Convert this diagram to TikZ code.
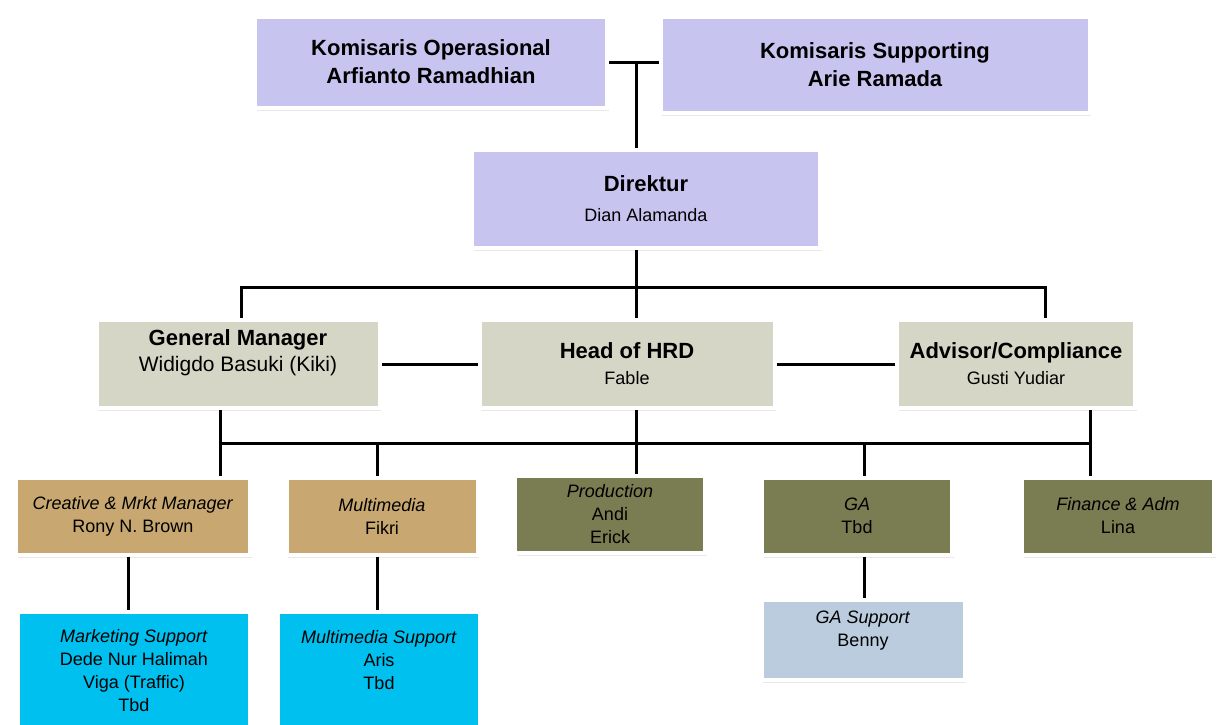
\documentclass[tikz,border=0pt]{standalone}
\usepackage{fontspec}
\setmainfont{Liberation Sans}
\usetikzlibrary{positioning, calc, shadows}
\definecolor{komfill}{RGB}{200,196,240}
\definecolor{mgrfill}{RGB}{214,214,198}
\definecolor{tanfill}{RGB}{200,168,112}
\definecolor{olivefill}{RGB}{122,124,82}
\definecolor{cyanfill}{RGB}{0,192,240}
\definecolor{supfill}{RGB}{186,204,222}
\tikzset{block/.style={draw=white, line width=4pt, align=center, inner sep=2pt,
    drop shadow={shadow xshift=1.5pt, shadow yshift=-3pt, opacity=.18}},
  top/.style={block, fill=komfill, font=\bfseries\fontsize{22}{28}\selectfont},
  mid/.style={block, fill=mgrfill, minimum height=88pt, font=\fontsize{18}{26}\selectfont},
  unit/.style={block, fill=#1, minimum height=77pt, font=\fontsize{18}{23}\selectfont},
  support/.style={block, fill=#1, font=\fontsize{18}{23}\selectfont},
  line/.style={line width=3pt}
}
\newcommand{\ttl}[1]{\textbf{\fontsize{22}{26}\selectfont #1}}

\begin{document}
\begin{tikzpicture}[x=1pt,y=-1pt]
\fill[white] (0,0) rectangle (1219,724);
\useasboundingbox (0,0) rectangle (1219,724);
% komisaris and direktur
\node[top,minimum width=352pt,minimum height=91pt] (kop) at (431,62) {Komisaris Operasional\\Arfianto Ramadhian};
\node[top,minimum width=429pt,minimum height=96pt] (ksup) at (875,65) {Komisaris Supporting\\Arie Ramada};
\node[top,minimum width=348pt,minimum height=98pt,font=\fontsize{18}{30}\selectfont] (dir) at (646,199) {\ttl{Direktur}\\Dian Alamanda};
% managers
\node[mid,minimum width=283pt] (gm) at (238,364) {\ttl{General Manager}\\{\fontsize{21}{26}\selectfont Widigdo Basuki (Kiki)}\\\mbox{}};
\node[mid,minimum width=295pt] (hrd) at (627,364) {\ttl{Head of HRD}\\Fable};
\node[mid,minimum width=238pt] (adv) at (1016,364) {\ttl{Advisor/Compliance}\\Gusti Yudiar};
% units
\node[unit=tanfill,minimum width=234pt] (cmm) at (133,516) {\textit{Creative \& Mrkt Manager}\\Rony N. Brown};
\node[unit=tanfill,minimum width=191pt] (mm) at (382,516) {\textit{Multimedia}\\Fikri};
\node[unit=olivefill,minimum width=190pt] (prod) at (610,514) {\textit{Production}\\Andi\\Erick};
\node[unit=olivefill,minimum width=190pt] (ga) at (857,516) {\textit{GA}\\Tbd};
\node[unit=olivefill,minimum width=192pt] (fin) at (1118,516) {\textit{Finance \& Adm}\\Lina};
% support
\node[support=cyanfill,minimum width=232pt,minimum height=118pt] (msup) at (134,671) {\textit{Marketing Support}\\Dede Nur Halimah\\Viga (Traffic)\\Tbd};
\node[support=cyanfill,minimum width=202pt,minimum height=118pt] (mmsup) at (379,671) {\textit{Multimedia Support}\\Aris\\Tbd\\\mbox{}};
\node[support=supfill,minimum width=203pt,minimum height=80pt] (gasup) at (863,640) {\textit{GA Support}\\Benny\\\mbox{}};
% connectors
\coordinate (kj) at (636,62);
\coordinate (bus1) at (636,287);
\coordinate (busL) at (241,287);
\coordinate (busR) at (1045,287);
\coordinate (bus2) at (636,443);
\coordinate (bus2L) at (220,443);
\coordinate (bus2R) at (1090,443);
\draw[line] (kop.east) -- (kop.east -| ksup.west);
\draw[line] (kj) -- (kj |- dir.north);
\draw[line] (bus1 |- dir.south) -- (bus1);
\draw[line] (busL |- gm.north) -- (busL) -- (busR) -- (busR |- adv.north);
\draw[line] (bus1) -- (bus1 |- hrd.north);
\draw[line] (gm) -- (hrd);
\draw[line] (hrd) -- (adv);
\draw[line] (bus2L |- gm.south) -- (bus2L) -- (bus2R) -- (bus2R |- adv.south);
\draw[line] (bus2 |- hrd.south) -- (bus2);
\foreach \x/\n in {220/cmm,377/mm,636/prod,864/ga,1090/fin}
  \draw[line] (\x,443) -- (\x,443 |- \n.north);
\foreach \x/\a/\b in {128/cmm/msup,377/mm/mmsup,864/ga/gasup}
  \draw[line] (\x,0 |- \a.south) -- (\x,0 |- \b.north);
\end{tikzpicture}
\end{document}
